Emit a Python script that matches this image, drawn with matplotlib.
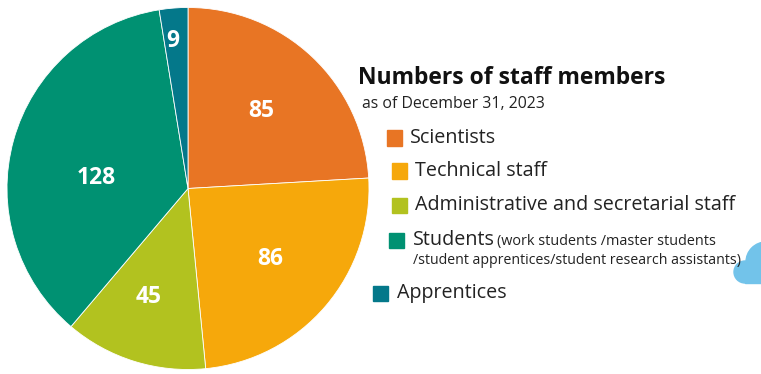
import matplotlib.pyplot as plt
from matplotlib.patches import Rectangle, Ellipse
import numpy as np

plt.rcParams['font.family'] = ['Open Sans', 'DejaVu Sans']

categories = ['Scientists', 'Technical staff', 'Administrative and secretarial staff',
              'Students', 'Apprentices']
values = [85, 86, 45, 128, 9]
colors = ['#E87524', '#F6A80B', '#B2C21F', '#009172', '#04788A']
title = 'Numbers of staff members'
subtitle = 'as of December 31, 2023'
students_note = ['(work students /master students', '/student apprentices/student research assistants)']

W, H = 761, 374
fig = plt.figure(figsize=(W / 100, H / 100), dpi=100)


def fx(x):
    return x / W


def fy(y):
    return 1 - y / H


def disc(x, y, r, c):
    fig.patches.append(Ellipse((fx(x), fy(y)), 2 * r / W, 2 * r / H,
                               transform=fig.transFigure, color=c, zorder=0))


# decorative blob at the right edge
blob_c = '#72C3EA'
disc(766, 262, 20, blob_c)
disc(745, 272, 11, blob_c)
fig.patches.append(Rectangle((fx(745), fy(283)), 20 / W, 21 / H, transform=fig.transFigure,
                             color=blob_c, zorder=0))

# pie
ax = fig.add_axes([fx(7), fy(370), 362 / W, 363 / H])
wedges, _ = ax.pie(values, colors=colors, startangle=90, counterclock=False,
                   wedgeprops=dict(edgecolor='white', linewidth=0.6))
ax.set_xlim(-1, 1)
ax.set_ylim(-1, 1)
ax.set_aspect('equal')
label_r = [0.59, 0.60, 0.64, 0.51, 0.82]
label_dang = [0, 0, -2.5, 9, 1.5]
for w, v, r, da in zip(wedges, values, label_r, label_dang):
    ang = np.deg2rad((w.theta1 + w.theta2) / 2 + da)
    ax.text(r * np.cos(ang), r * np.sin(ang), str(v), ha='center', va='center',
            color='white', fontsize=16.5, fontweight='bold')

# legend
fig.text(fx(358), fy(78), title, fontsize=16.5, fontweight='bold', va='center', color='#111111')
fig.text(fx(362), fy(104), subtitle, fontsize=11.4, va='center', color='#222222')

sq_x = [387, 392, 392, 389, 373]
txt_x = [410, 415, 415, 413, 397]
row_y = [138, 171, 205, 240, 293]
for c, lab, sx, tx, ry in zip(colors, categories, sq_x, txt_x, row_y):
    fig.patches.append(Rectangle((fx(sx), fy(ry + 7.5)), 15 / W, 15 / H,
                                 transform=fig.transFigure, color=c))
    fig.text(fx(tx), fy(ry), lab, fontsize=14.2, va='center', color='#222222')

fig.text(fx(497), fy(242), students_note[0], fontsize=10.4, va='center', color='#222222')
fig.text(fx(413), fy(261), students_note[1], fontsize=10.2, va='center', color='#222222')

fig.savefig('out.png', dpi=100)
